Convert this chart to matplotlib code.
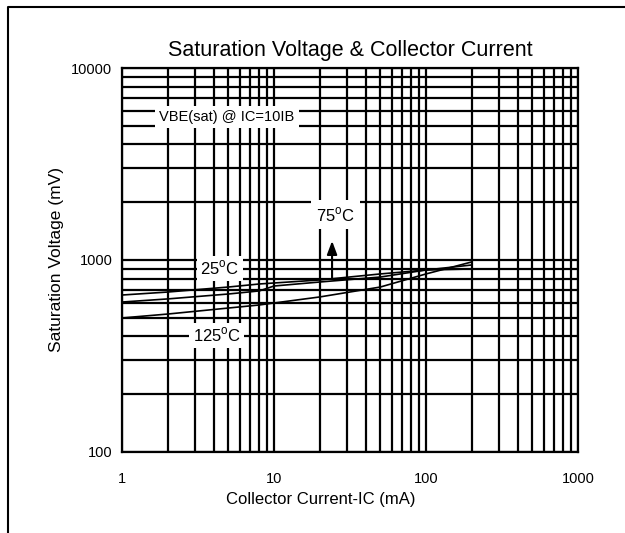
import matplotlib.pyplot as plt
from matplotlib.lines import Line2D
from matplotlib.ticker import FixedLocator, NullFormatter, FixedFormatter

plt.rcParams['font.family'] = ['Liberation Sans', 'DejaVu Sans']

# collector current (mA)
current = [1, 2, 5, 8, 10, 20, 50, 100, 200]
# saturation voltage (mV) per temperature
vbe_25 = [657, 681, 723, 750, 759, 787, 846, 887, 898]
vbe_75 = [604, 627, 665, 690, 732, 768, 815, 887, 942]
vbe_125 = [499, 523, 562, 583, 597, 642, 723, 846, 977]

x_ticks = [1, 10, 100, 1000]
y_ticks = [100, 1000, 10000]


def main():
    fig = plt.figure(figsize=(6.25, 5.33), dpi=100)
    ax = fig.add_axes([0.1952, 0.152, 0.7296, 0.7204])

    for v in (vbe_25, vbe_75, vbe_125):
        ax.plot(current, v, color='black', lw=1.2, zorder=3)

    ax.set_xscale('log')
    ax.set_yscale('log')
    ax.set_xlim(1, 1000)
    ax.set_ylim(100, 10000)

    ax.xaxis.set_major_locator(FixedLocator(x_ticks))
    ax.xaxis.set_major_formatter(FixedFormatter([str(t) for t in x_ticks]))
    ax.yaxis.set_major_locator(FixedLocator(y_ticks))
    ax.yaxis.set_major_formatter(FixedFormatter([str(t) for t in y_ticks]))
    x_minor = [m * d for d in (1, 10, 100) for m in range(2, 10)]
    y_minor = [m * d for d in (100, 1000) for m in range(2, 10)]
    ax.xaxis.set_minor_locator(FixedLocator(x_minor))
    ax.yaxis.set_minor_locator(FixedLocator(y_minor))
    ax.xaxis.set_minor_formatter(NullFormatter())
    ax.yaxis.set_minor_formatter(NullFormatter())
    ax.tick_params(which='both', length=0, labelsize=10.5)
    ax.tick_params(axis='x', pad=14.5)
    ax.tick_params(axis='y', pad=7)

    ax.grid(which='both', color='black', lw=1.6, zorder=1)
    ax.set_axisbelow(True)
    for s in ax.spines.values():
        s.set_linewidth(1.6)

    ax.set_title('Saturation Voltage & Collector Current', fontsize=15.5, pad=9)
    ax.set_xlabel('Collector Current-IC (mA)', fontsize=12, labelpad=3.5)
    ax.xaxis.set_label_coords(0.436, -0.105)
    ax.set_ylabel('Saturation Voltage (mV)', fontsize=12.5, labelpad=5)

    box = dict(boxstyle='square,pad=0.2', facecolor='white', edgecolor='none')
    ax.text(4.9, 5550, 'VBE(sat) @ IC=10IB', fontsize=10.5, ha='center',
            va='center', bbox=dict(boxstyle='square,pad=0.3', facecolor='white',
                                   edgecolor='none'), zorder=4)
    ax.text(4.4, 905, r'25$^{\mathregular{o}}$C', fontsize=12, ha='center',
            va='center', bbox=box, zorder=4)
    ax.text(4.2, 405, r'125$^{\mathregular{o}}$C', fontsize=12, ha='center',
            va='center', bbox=box, zorder=4)
    ax.text(25.2, 1720, r'75$^{\mathregular{o}}$C', fontsize=12, ha='center',
            va='center', bbox=dict(boxstyle='square,pad=0.3', facecolor='white',
                                   edgecolor='none'), zorder=4)
    ax.annotate('', xy=(24.1, 1300), xytext=(24.1, 770),
                arrowprops=dict(arrowstyle='-|>,head_width=0.3,head_length=0.8',
                                color='black', lw=1.5), zorder=5)

    # outer frame (top and left only)
    fig.add_artist(Line2D([0.0128, 0.0128, 1.0], [0.0, 0.9869, 0.9869],
                          transform=fig.transFigure, color='black', lw=1.5))

    fig.savefig('out.png', dpi=100)


if __name__ == '__main__':
    main()
